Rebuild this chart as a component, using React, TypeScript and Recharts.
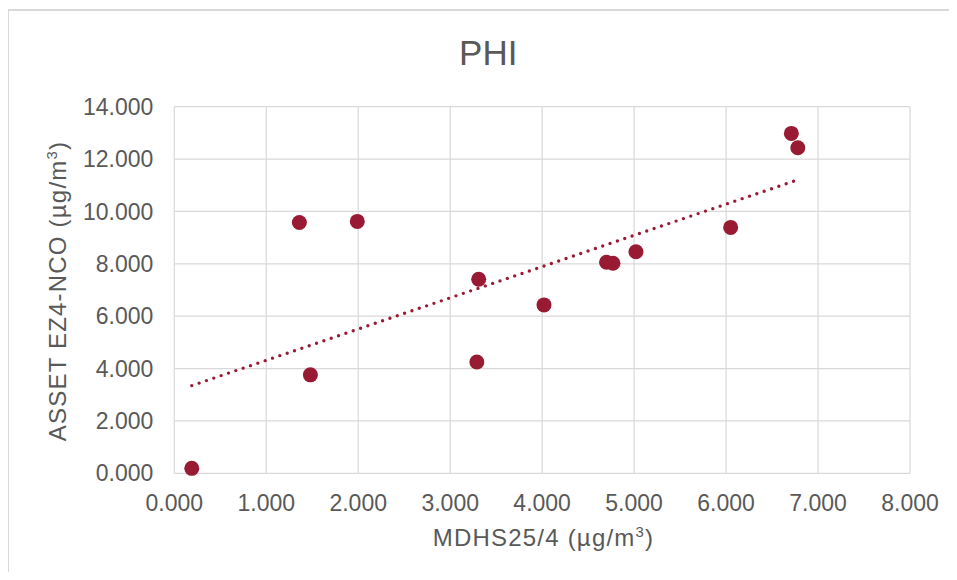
import { ScatterChart, Scatter, XAxis, YAxis, CartesianGrid } from "recharts";

const xValues = [0.19, 1.36, 1.99, 1.48, 3.31, 3.29, 4.02, 4.7, 4.77, 5.02, 6.05, 6.71, 6.78];
const yValues = [0.19, 9.58, 9.62, 3.76, 7.41, 4.25, 6.43, 8.06, 8.02, 8.46, 9.39, 12.98, 12.43];

// linear trendline ends
const trendX = [0.19, 6.78];
const trendY = [3.35, 11.21];

const xTicks = [0, 1, 2, 3, 4, 5, 6, 7, 8];
const yTicks = [0, 2, 4, 6, 8, 10, 12, 14];

const points = xValues.map((x, i) => ({ x, y: yValues[i] }));
const trend = trendX.map((x, i) => ({ x, y: trendY[i] }));

const RED = "#991b33";
const GREY = "#595959";
const GRID = "#d9d9d9";
const FONT = "'Liberation Sans', Arial, sans-serif";

const tickStyle = { fill: GREY, fontSize: 23, fontFamily: FONT };

const Dot = (props: any) => <circle cx={props.cx} cy={props.cy} r={7.5} fill={RED} />;

export default function App() {
  return (
    <div style={{ position: "relative", width: 941, height: 564, fontFamily: FONT, color: GREY }}>
      <div style={{ position: "absolute", left: -1, top: 1, width: 948, height: 2, background: GRID }} />
      <div style={{ position: "absolute", left: -1, top: 1, width: 2, height: 563, background: GRID }} />

      <ScatterChart
        width={941}
        height={564}
        margin={{ top: 98.7, right: 39, left: 0, bottom: 68.7 }}
      >
        <CartesianGrid stroke={GRID} strokeWidth={1.2} />
        <XAxis
          type="number"
          dataKey="x"
          domain={[0, 8]}
          ticks={xTicks}
          tickFormatter={(v: number) => v.toFixed(3)}
          axisLine={false}
          tickLine={false}
          tickSize={0}
          tickMargin={21}
          height={30}
          tick={tickStyle}
          interval={0}
        />
        <YAxis
          type="number"
          dataKey="y"
          domain={[0, 14]}
          ticks={yTicks}
          tickFormatter={(v: number) => v.toFixed(3)}
          axisLine={false}
          tickLine={false}
          tickSize={0}
          tickMargin={21}
          width={166.3}
          tick={tickStyle}
          interval={0}
        />
        <Scatter
          data={trend}
          line={{ stroke: RED, strokeWidth: 3.4, strokeDasharray: "0 7.75", strokeLinecap: "round" }}
          shape={() => null}
          isAnimationActive={false}
        />
        <Scatter data={points} shape={Dot} isAnimationActive={false} />
      </ScatterChart>

      <div
        style={{
          position: "absolute",
          left: 380.3,
          top: 27.4,
          width: 200,
          textAlign: "center",
          fontSize: 35,
          lineHeight: "35px",
        }}
      >
        PHI
      </div>

      <div
        style={{
          position: "absolute",
          left: 335.5,
          top: 517.7,
          width: 400,
          textAlign: "center",
          fontSize: 24,
          lineHeight: "24px",
          letterSpacing: 1.2,
          whiteSpace: "nowrap",
        }}
      >
        MDHS25/4 (µg/m<span style={{ fontSize: "0.62em", verticalAlign: "super", lineHeight: 0 }}>3</span>)
      </div>

      <div
        style={{
          position: "absolute",
          left: 50.4 - 200,
          top: 282.5 - 12,
          width: 400,
          textAlign: "center",
          fontSize: 24,
          lineHeight: "24px",
          letterSpacing: 1.2,
          whiteSpace: "nowrap",
          transform: "rotate(-90deg)",
        }}
      >
        ASSET EZ4-NCO (µg/m<span style={{ fontSize: "0.62em", verticalAlign: "super", lineHeight: 0 }}>3</span>)
      </div>
    </div>
  );
}
